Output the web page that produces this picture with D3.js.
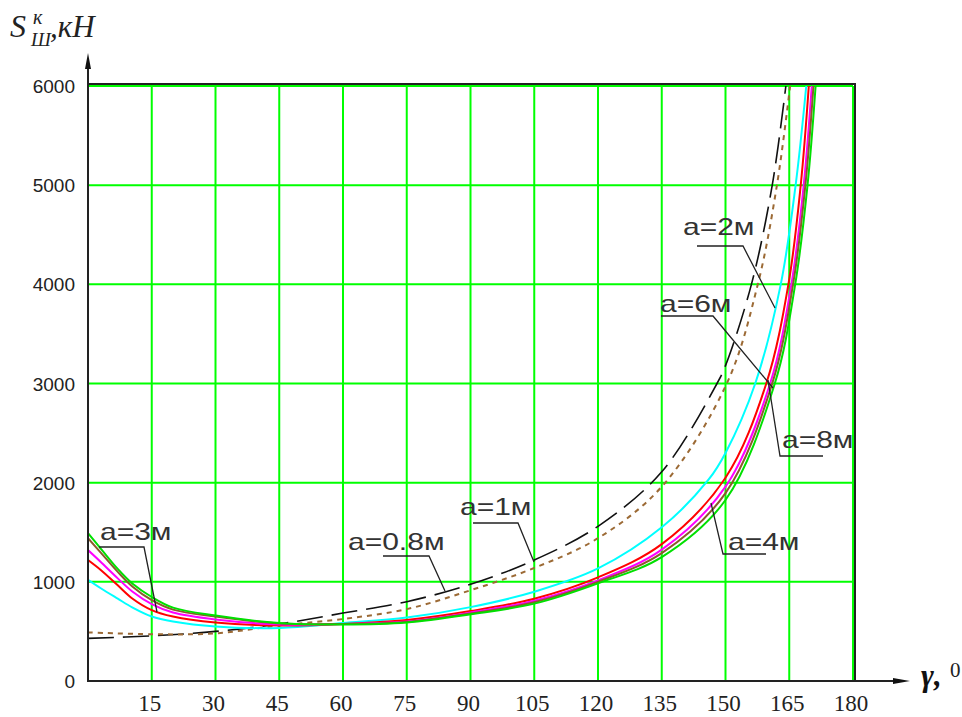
<!DOCTYPE html>
<html><head><meta charset="utf-8">
<script src="https://cdn.jsdelivr.net/npm/d3@7"></script>
<style>body{margin:0;background:#fff}</style>
</head><body>
<svg id="chart" width="962" height="717"></svg>
<script>
// Axis ticks
const angleTicks = [15, 30, 45, 60, 75, 90, 105, 120, 135, 150, 165, 180];
const forceTicks = [0, 1000, 2000, 3000, 4000, 5000, 6000];

// S_Ш^к (kN) vs angle γ (deg) for several values of a
const ang_a08 = [0, 15, 30, 45, 60, 75, 90, 105, 120, 135, 148, 150, 156.1, 161, 164.2];
const val_a08 = [430, 455, 500, 575, 685, 800, 975, 1220, 1560, 2110, 3000, 3180, 4000, 5000, 6000];

const ang_a1 = [0, 15, 30, 45, 60, 75, 90, 105, 120, 135, 150.3, 157.6, 162.1, 165.2];
const val_a1 = [490, 472, 480, 560, 625, 725, 915, 1140, 1440, 1960, 3000, 4000, 5000, 6000];

const ang_a2 = [0, 3, 7, 10.5, 15, 20, 30, 45, 60, 75, 90, 105, 120, 135, 146, 150, 157, 163, 166.5, 169];
const val_a2 = [1020, 935, 830, 740, 650, 600, 550, 535, 585, 640, 745, 900, 1135, 1550, 2030, 2300, 3000, 4000, 5000, 6000];

const ang_a3 = [0, 3, 7, 10.5, 15, 20, 30, 45, 60, 75, 90, 105, 120, 135, 150, 159.6, 164.8, 167.7, 169.6];
const val_a3 = [1220, 1120, 965, 830, 715, 650, 590, 560, 575, 615, 705, 830, 1045, 1380, 2050, 3000, 4000, 5000, 6000];

const ang_a4 = [0, 3, 7, 10.5, 15, 20, 30, 45, 60, 75, 90, 105, 120, 135, 150, 160.5, 165.5, 168.4, 170.3];
const val_a4 = [1320, 1200, 1035, 900, 775, 690, 620, 570, 575, 600, 690, 810, 1015, 1325, 1960, 3000, 4000, 5000, 6000];

const ang_a6 = [0, 3, 7, 10.5, 15, 20, 30, 45, 60, 75, 90, 105, 120, 135, 150, 161, 165.9, 168.8, 170.7];
const val_a6 = [1440, 1295, 1100, 950, 815, 720, 650, 580, 575, 595, 680, 795, 1000, 1290, 1895, 3000, 4000, 5000, 6000];

const ang_a8 = [0, 3, 7, 10.5, 15, 20, 30, 45, 60, 75, 90, 105, 120, 135, 150, 161.6, 166.4, 169.3, 171.2];
const val_a8 = [1490, 1335, 1130, 980, 847, 740, 660, 585, 570, 590, 672, 780, 985, 1250, 1825, 3000, 4000, 5000, 6000];

const seriesLabels = ["a=0.8м", "a=1м", "a=2м", "a=3м", "a=4м", "a=6м", "a=8м"];

// line styles, drawn back to front
const series = [
  {ang: ang_a08, val: val_a08, color: "#111", width: 1.6, dash: "26,9"},
  {ang: ang_a1,  val: val_a1,  color: "#9c6a35", width: 2, dash: "5,5"},
  {ang: ang_a2,  val: val_a2,  color: "#00ffff", width: 2, dash: null},
  {ang: ang_a3,  val: val_a3,  color: "#ff0000", width: 2, dash: null},
  {ang: ang_a4,  val: val_a4,  color: "#ff00ff", width: 2, dash: null},
  {ang: ang_a6,  val: val_a6,  color: "#8b5a2b", width: 2, dash: null},
  {ang: ang_a8,  val: val_a8,  color: "#00e000", width: 2, dash: null}
];

const svg = d3.select("#chart");
const x = d3.scaleLinear().domain([0, 180]).range([88, 853]);
const y = d3.scaleLinear().domain([0, 6000]).range([681, 86]);

const grid = "#00ff00";

// vertical grid lines
svg.append("g").selectAll("line").data(angleTicks).join("line")
  .attr("x1", d => x(d)).attr("x2", d => x(d))
  .attr("y1", y(0)).attr("y2", y(6000))
  .attr("stroke", grid).attr("stroke-width", 2);

// horizontal grid lines
svg.append("g").selectAll("line").data(forceTicks.filter(d => d > 0)).join("line")
  .attr("x1", x(0)).attr("x2", x(180))
  .attr("y1", d => y(d)).attr("y2", d => y(d))
  .attr("stroke", grid).attr("stroke-width", 2);

// dark frame edges on top and right
svg.append("line").attr("x1", x(0)).attr("x2", x(180) + 1)
  .attr("y1", y(6000) - 2).attr("y2", y(6000) - 2)
  .attr("stroke", "#222").attr("stroke-width", 2);
svg.append("line").attr("x1", x(180) + 2).attr("x2", x(180) + 2)
  .attr("y1", y(6000) - 3).attr("y2", y(0))
  .attr("stroke", "#222").attr("stroke-width", 2);

// curves
svg.append("clipPath").attr("id", "plotClip")
  .append("rect").attr("x", x(0)).attr("y", y(6000) - 1)
  .attr("width", x(180) - x(0)).attr("height", y(0) - y(6000) + 1);

const line = d3.line()
  .x(d => x(d[0])).y(d => y(d[1]))
  .curve(d3.curveCatmullRom.alpha(0.5));

const curves = svg.append("g").attr("clip-path", "url(#plotClip)");
series.forEach(s => {
  const pts = s.ang.map((a, i) => [a, s.val[i]]);
  curves.append("path")
    .attr("d", line(pts))
    .attr("fill", "none")
    .attr("stroke", s.color)
    .attr("stroke-width", s.width)
    .attr("stroke-dasharray", s.dash);
});

// axes with arrows
svg.append("line").attr("x1", x(0)).attr("x2", 900)
  .attr("y1", y(0)).attr("y2", y(0))
  .attr("stroke", "#222").attr("stroke-width", 2);
svg.append("path").attr("d", `M893,${y(0) - 3} L910,${y(0)} L893,${y(0) + 3} Z`).attr("fill", "#111");
svg.append("line").attr("x1", x(0)).attr("x2", x(0))
  .attr("y1", y(0) + 1).attr("y2", 62)
  .attr("stroke", "#222").attr("stroke-width", 2);
svg.append("path").attr("d", `M${x(0) - 3},69 L${x(0)},53 L${x(0) + 3},69 Z`).attr("fill", "#111");

// tick labels
svg.append("g").selectAll("text").data(forceTicks).join("text")
  .attr("x", 75).attr("y", d => y(d) + 7)
  .attr("text-anchor", "end")
  .attr("font-family", "Liberation Sans, Arial, sans-serif")
  .attr("font-size", 19).attr("fill", "#222")
  .text(d => d);

svg.append("g").selectAll("text").data(angleTicks).join("text")
  .attr("x", d => x(d) - 2).attr("y", 711)
  .attr("text-anchor", "middle")
  .attr("font-family", "Liberation Serif, Times New Roman, serif")
  .attr("font-size", 23).attr("fill", "#222")
  .text(d => d);

// axis titles
const serif = "Liberation Serif, Times New Roman, serif";
svg.append("text").attr("x", 10).attr("y", 37)
  .attr("font-family", serif).attr("font-style", "italic")
  .attr("font-size", 32).attr("fill", "#222").text("S");
svg.append("text").attr("x", 33).attr("y", 24)
  .attr("font-family", serif).attr("font-style", "italic")
  .attr("font-size", 20).attr("fill", "#222").text("к");
svg.append("text").attr("x", 31).attr("y", 46)
  .attr("font-family", serif).attr("font-style", "italic")
  .attr("font-size", 19).attr("fill", "#222").text("Ш");
svg.append("text").attr("x", 50).attr("y", 37)
  .attr("font-family", serif).attr("font-style", "italic")
  .attr("font-size", 31).attr("fill", "#222").text(",кН");

svg.append("text").attr("x", 921).attr("y", 686)
  .attr("font-family", serif).attr("font-style", "italic").attr("font-weight", "bold")
  .attr("font-size", 31).attr("fill", "#111").text("γ,");
svg.append("text").attr("x", 950).attr("y", 677)
  .attr("font-family", serif)
  .attr("font-size", 21).attr("fill", "#222").text("0");

// curve labels with leader lines
const labelLayout = [
  {i: 0, tx: 348, ty: 550, path: [[383, 556], [429, 556], [445, 591]]},
  {i: 1, tx: 460, ty: 515, path: [[473, 523], [518, 523], [534, 562]]},
  {i: 2, tx: 683, ty: 235, path: [[697, 246], [743, 246], [775, 308]]},
  {i: 3, tx: 100, ty: 540, path: [[99, 547], [144, 547], [157, 612]]},
  {i: 4, tx: 728, ty: 550, path: [[711, 503], [723, 554], [766, 554]]},
  {i: 5, tx: 660, ty: 312, path: [[661, 316], [713, 316], [773, 388]]},
  {i: 6, tx: 782, ty: 448, path: [[768, 380], [780, 456], [823, 456]]}
];

const ann = svg.append("g");
labelLayout.forEach(l => {
  ann.append("path")
    .attr("d", d3.line()(l.path))
    .attr("fill", "none").attr("stroke", "#222").attr("stroke-width", 1.3);
  ann.append("text")
    .attr("transform", `translate(${l.tx},${l.ty}) scale(1.25,1)`)
    .attr("font-family", "Liberation Sans, Arial, sans-serif")
    .attr("font-size", 24).attr("fill", "#333")
    .text(seriesLabels[l.i]);
});
</script>
</body></html>
